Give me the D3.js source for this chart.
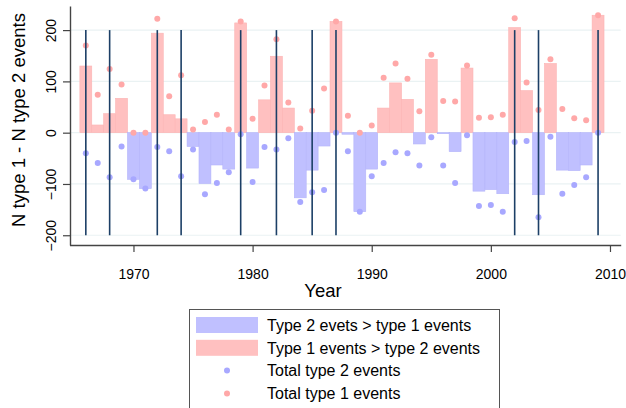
<!DOCTYPE html>
<html>
<head>
<meta charset="utf-8">
<script src="https://cdn.jsdelivr.net/npm/d3@7"></script>
<style>
  body { margin: 0; background: #fff; }
  svg { display: block; font-family: "Liberation Sans", Arial, sans-serif; }
</style>
</head>
<body>
<svg width="626" height="408"></svg>
<script>
// values
const years = [1966, 1967, 1968, 1969, 1970, 1971, 1972, 1973, 1974, 1975, 1976, 1977, 1978, 1979, 1980,
               1981, 1982, 1983, 1984, 1985, 1986, 1987, 1988, 1989, 1990, 1991, 1992, 1993, 1994, 1995,
               1996, 1997, 1998, 1999, 2000, 2001, 2002, 2003, 2004, 2005, 2006, 2007, 2008, 2009];
const totalType1 = [170, 74, 124, 94, 0, 0, 222, 71, 112, 6, 21, 35, 6, 217, 27,
                    92, 182, 59, 8, 43, 86, 217, 33, 0, 14, 107, 135, 105, 42, 152,
                    62, 61, 131, 29, 30, 35, 223, 98, 44, 143, 46, 28, 24, 229];
const totalType2 = [40, 59, 87, 27, 91, 109, 28, 36, 85, 33, 120, 98, 77, 3, 96,
                    28, 33, 11, 135, 116, 112, 0, 36, 154, 85, 59, 38, 40, 64, 9,
                    64, 98, 5, 143, 141, 154, 18, 16, 165, 8, 119, 102, 87, 0];
const markedYears = [1966, 1968, 1972, 1974, 1979, 1982, 1985, 1987, 2002, 2004, 2009];
const yTicks = [-200, -100, 0, 100, 200];
const xTicks = [1970, 1980, 1990, 2000, 2010];

const data = years.map((yr, i) => ({
  year: yr,
  t1: totalType1[i],
  t2: totalType2[i],
  diff: totalType1[i] - totalType2[i]
}));

const svg = d3.select("svg");

const x = d3.scaleLinear().domain([1964.63, 2010.9]).range([69.5, 620.7]);
const y = d3.scaleLinear().domain([-219, 247]).range([245, 6]);
const barW = x(1) - x(0);

const pinkBar = "#ffc0c0", blueBar = "#c0c0ff";
const pinkDot = "#ffa8a8", blueDot = "#a8a8ff";

// grid
svg.append("g")
  .selectAll("line")
  .data(yTicks)
  .enter().append("line")
  .attr("x1", 70).attr("x2", 620.7)
  .attr("y1", d => y(d)).attr("y2", d => y(d))
  .attr("stroke", "#eaf2f3")
  .attr("stroke-width", 1.2);

// bars
svg.append("g")
  .selectAll("rect")
  .data(data)
  .enter().append("rect")
  .attr("x", d => x(d.year) - barW / 2)
  .attr("width", barW)
  .attr("y", d => y(Math.max(0, d.diff)))
  .attr("height", d => Math.abs(y(d.diff) - y(0)))
  .attr("fill", d => d.diff >= 0 ? pinkBar : blueBar)
  .attr("stroke", d => d.diff >= 0 ? "#fcb4b4" : "#b4b4fa")
  .attr("stroke-width", 0.6);

// totals
svg.append("g")
  .selectAll("circle")
  .data(data)
  .enter().append("circle")
  .attr("cx", d => x(d.year))
  .attr("cy", d => y(-d.t2))
  .attr("r", 3)
  .attr("fill", blueDot);

svg.append("g")
  .selectAll("circle")
  .data(data)
  .enter().append("circle")
  .attr("cx", d => x(d.year))
  .attr("cy", d => y(d.t1))
  .attr("r", 3)
  .attr("fill", pinkDot);

// marked years
svg.append("g")
  .selectAll("line")
  .data(markedYears)
  .enter().append("line")
  .attr("x1", d => x(d)).attr("x2", d => x(d))
  .attr("y1", y(200)).attr("y2", y(-200))
  .attr("stroke", "#1c3f66")
  .attr("stroke-width", 1.6);

// axes
const xAxis = svg.append("g")
  .attr("transform", "translate(0,245)")
  .call(d3.axisBottom(x).tickValues(xTicks).tickFormat(d3.format("d")).tickSize(7).tickSizeOuter(0).tickPadding(17));
xAxis.select(".domain").attr("stroke", "#444").attr("stroke-width", 1.4);
xAxis.selectAll(".tick line").attr("stroke", "#444").attr("stroke-width", 1.2);
xAxis.selectAll("text").attr("font-size", 14).attr("fill", "#000")
  .attr("font-family", "Liberation Sans, Arial, sans-serif");

const yAxis = svg.append("g")
  .attr("transform", "translate(70,0)")
  .call(d3.axisLeft(y).tickValues(yTicks).tickSize(7).tickSizeOuter(0));
yAxis.select(".domain").attr("stroke", "#444").attr("stroke-width", 1.4);
yAxis.selectAll(".tick line").attr("stroke", "#444").attr("stroke-width", 1.2);
yAxis.selectAll("text")
  .attr("font-size", 14).attr("fill", "#000")
  .attr("font-family", "Liberation Sans, Arial, sans-serif")
  .attr("x", null).attr("dy", null)
  .attr("text-anchor", "middle")
  .attr("transform", "translate(-14.5,0) rotate(-90)");

// titles
svg.append("text")
  .attr("transform", `translate(25,${(13 + 227) / 2}) rotate(-90)`)
  .attr("text-anchor", "middle")
  .attr("font-size", 18.5)
  .text("N type 1 - N type 2 events");

svg.append("text")
  .attr("x", 323).attr("y", 297)
  .attr("text-anchor", "middle")
  .attr("font-size", 18.5)
  .text("Year");

// legend
const legend = svg.append("g");
legend.append("rect")
  .attr("x", 189.5).attr("y", 309.5)
  .attr("width", 310).attr("height", 110)
  .attr("fill", "#fff")
  .attr("stroke", "#555");

const legendItems = [
  { label: "Type 2 evets > type 1 events", kind: "bar", color: blueBar },
  { label: "Type 1 events > type 2 events", kind: "bar", color: pinkBar },
  { label: "Total type 2 events", kind: "dot", color: blueDot },
  { label: "Total type 1 events", kind: "dot", color: pinkDot }
];

const row = legend.selectAll("g.item")
  .data(legendItems)
  .enter().append("g")
  .attr("class", "item")
  .attr("transform", (d, i) => `translate(0,${325 + i * 22.8})`);

row.filter(d => d.kind === "bar").append("rect")
  .attr("x", 196).attr("y", -8)
  .attr("width", 62).attr("height", 16)
  .attr("fill", d => d.color);

row.filter(d => d.kind === "dot").append("circle")
  .attr("cx", 227).attr("cy", 0)
  .attr("r", 3)
  .attr("fill", d => d.color);

row.append("text")
  .attr("x", 267).attr("y", 5.7)
  .attr("font-size", 16)
  .text(d => d.label);
</script>
</body>
</html>
